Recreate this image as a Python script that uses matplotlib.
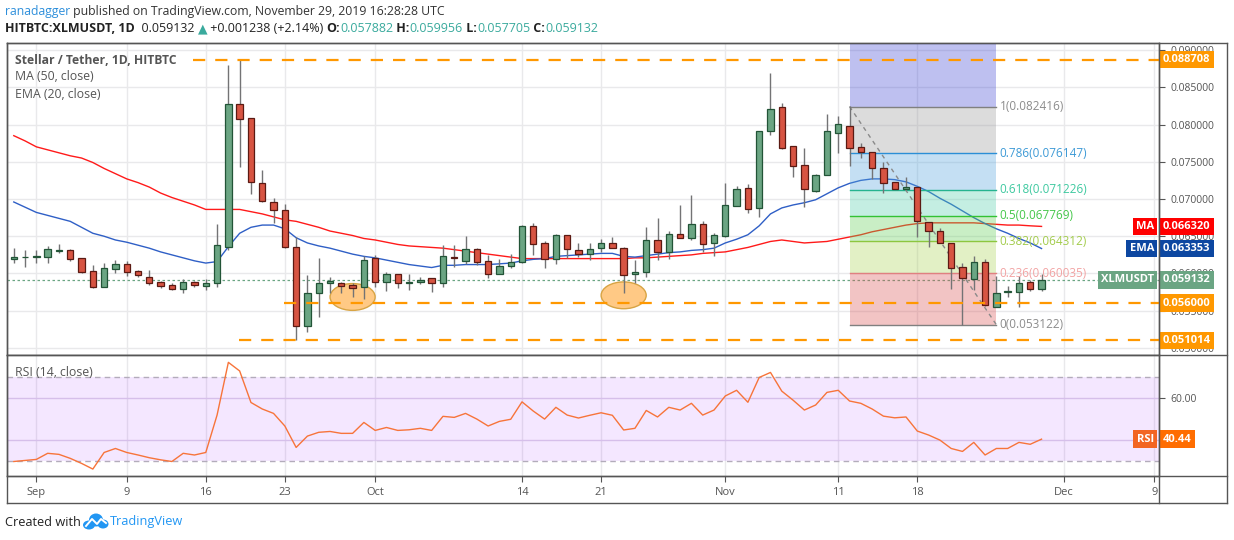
import numpy as np
import pandas as pd
import matplotlib
matplotlib.use('Agg')
import matplotlib.pyplot as plt
from matplotlib.patches import Rectangle, Ellipse
from matplotlib.lines import Line2D
from matplotlib.transforms import blended_transform_factory

plt.rcParams['font.family'] = ['Open Sans', 'DejaVu Sans']

# ---- data ----
dates = pd.date_range('2019-08-30', '2019-11-29', freq='D')

opens = [0.06190, 0.06215, 0.06217, 0.06226, 0.06302, 0.06311, 0.06204, 0.06034, 0.05823, 0.06060,
         0.06123, 0.06034, 0.05957, 0.05881, 0.05841, 0.05787, 0.05881, 0.05837, 0.05868, 0.06360,
         0.08275, 0.08083, 0.07210, 0.06964, 0.06848, 0.06360, 0.05295, 0.05743, 0.05868, 0.05868,
         0.05841, 0.05814, 0.06204, 0.05881, 0.05989, 0.05870, 0.05882, 0.05940, 0.05868, 0.06218,
         0.06172, 0.06325, 0.06164, 0.05989, 0.06097, 0.06150, 0.06638, 0.06405, 0.06190, 0.06512,
         0.06311, 0.06257, 0.06338, 0.06405, 0.06338, 0.05989, 0.06024, 0.06445, 0.06284, 0.06526,
         0.06472, 0.06669, 0.06414, 0.06507, 0.06910, 0.07144, 0.06875, 0.07909, 0.08231, 0.07707,
         0.07452, 0.07104, 0.07318, 0.07882, 0.07976, 0.07694, 0.07627, 0.07412, 0.07224, 0.07130,
         0.07157, 0.06696, 0.06575, 0.06405, 0.06083, 0.05922, 0.06150, 0.05555, 0.05752, 0.05756,
         0.05882, 0.057882]
highs = [0.06338, 0.06315, 0.06315, 0.06374, 0.06396, 0.06324, 0.06204, 0.06114, 0.06136, 0.06181,
         0.06172, 0.06047, 0.06047, 0.05904, 0.05877, 0.05922, 0.05904, 0.05922, 0.06664, 0.08799,
         0.08871, 0.08083, 0.07389, 0.07009, 0.06933, 0.06494, 0.05975, 0.06204, 0.05957, 0.05890,
         0.05868, 0.06235, 0.06248, 0.06025, 0.05995, 0.05993, 0.05949, 0.05940, 0.06383, 0.06383,
         0.06503, 0.06338, 0.06248, 0.06190, 0.06262, 0.06645, 0.06682, 0.06436, 0.06530, 0.06520,
         0.06405, 0.06405, 0.06459, 0.06485, 0.06360, 0.06181, 0.06620, 0.06741, 0.06570, 0.06919,
         0.07054, 0.06709, 0.06540, 0.07211, 0.07174, 0.07201, 0.07913, 0.08695, 0.08293, 0.07707,
         0.07681, 0.07336, 0.08141, 0.08114, 0.08242, 0.07756, 0.07627, 0.07501, 0.07224, 0.07291,
         0.07157, 0.06696, 0.06607, 0.06405, 0.06145, 0.06235, 0.06190, 0.05967, 0.05832, 0.05967,
         0.05913, 0.059956]
lows = [0.06136, 0.06083, 0.06145, 0.06145, 0.06271, 0.06172, 0.06011, 0.05801, 0.05823, 0.06011,
        0.05966, 0.05957, 0.05846, 0.05801, 0.05779, 0.05743, 0.05814, 0.05779, 0.05823, 0.06315,
        0.07434, 0.07063, 0.06964, 0.06682, 0.06338, 0.05101, 0.05219, 0.05412, 0.05734, 0.05734,
        0.05689, 0.05653, 0.05814, 0.05770, 0.05801, 0.05779, 0.05855, 0.05756, 0.05823, 0.06091,
        0.06128, 0.06114, 0.05935, 0.05989, 0.06078, 0.06137, 0.06248, 0.06078, 0.06128, 0.06204,
        0.06226, 0.06181, 0.06293, 0.06338, 0.05734, 0.05877, 0.05957, 0.06181, 0.06195, 0.06470,
        0.06450, 0.06293, 0.06235, 0.06494, 0.06910, 0.06817, 0.06763, 0.07859, 0.07671, 0.07291,
        0.06897, 0.07100, 0.07318, 0.07622, 0.07443, 0.07554, 0.07264, 0.07085, 0.07130, 0.07130,
        0.06486, 0.06352, 0.06405, 0.05788, 0.05312, 0.05778, 0.05560, 0.05555, 0.05681, 0.05546,
        0.05770, 0.057705]
closes = [0.06226, 0.06219, 0.06235, 0.06324, 0.06315, 0.06190, 0.06025, 0.05823, 0.06069, 0.06123,
          0.06025, 0.05975, 0.05877, 0.05837, 0.05796, 0.05881, 0.05841, 0.05877, 0.06383, 0.08275,
          0.08069, 0.07224, 0.06978, 0.06848, 0.06360, 0.05295, 0.05734, 0.05868, 0.05904, 0.05837,
          0.05810, 0.06181, 0.05881, 0.05989, 0.05868, 0.05880, 0.05913, 0.05868, 0.06235, 0.06206,
          0.06325, 0.06159, 0.05989, 0.06101, 0.06150, 0.06638, 0.06392, 0.06190, 0.06512, 0.06325,
          0.06257, 0.06325, 0.06405, 0.06338, 0.05975, 0.06020, 0.06445, 0.06284, 0.06526, 0.06472,
          0.06660, 0.06396, 0.06517, 0.06919, 0.07130, 0.06862, 0.07913, 0.08204, 0.07689, 0.07439,
          0.07130, 0.07318, 0.07913, 0.08003, 0.07681, 0.07627, 0.07412, 0.07211, 0.07130, 0.07157,
          0.06701, 0.06570, 0.06405, 0.06078, 0.05936, 0.06150, 0.05573, 0.05743, 0.05760, 0.05876,
          0.057882, 0.059132]

ma50 = [0.0785, 0.0778, 0.0770, 0.0766, 0.0762, 0.0758, 0.0755, 0.0749, 0.0741, 0.0734,
        0.0727, 0.0722, 0.0716, 0.0708, 0.0702, 0.0697, 0.0692, 0.0686, 0.0686, 0.0686,
        0.0686, 0.0683, 0.0680, 0.0676, 0.0672, 0.0670, 0.0666, 0.0662, 0.0657, 0.0654,
        0.0651, 0.0647, 0.0645, 0.0642, 0.0639, 0.0637, 0.0636, 0.0635, 0.0634, 0.0632,
        0.0630, 0.0628, 0.0626, 0.0624, 0.0622, 0.0620, 0.0620, 0.0620, 0.0620, 0.0620,
        0.0620, 0.0620, 0.0620, 0.0620, 0.0620, 0.0621, 0.0621, 0.0622, 0.0623, 0.0624,
        0.0625, 0.0627, 0.0628, 0.0629, 0.0632, 0.0635, 0.0639, 0.0643, 0.0645, 0.0643,
        0.0641, 0.0642, 0.0643, 0.0646, 0.0649, 0.0652, 0.0656, 0.0659, 0.0662, 0.0665,
        0.0667, 0.0668, 0.0668, 0.0668, 0.0668, 0.0668, 0.0667, 0.0666, 0.0665, 0.0665,
        0.0664, 0.06632]
ema20 = [0.0696, 0.0689, 0.0682, 0.0678, 0.0674, 0.0670, 0.0662, 0.0654, 0.0650, 0.0645,
         0.0642, 0.0638, 0.0634, 0.0629, 0.0625, 0.0621, 0.0617, 0.0614, 0.0616, 0.0636,
         0.0654, 0.0662, 0.0665, 0.0665, 0.0660, 0.0648, 0.0641, 0.0637, 0.0634, 0.0630,
         0.0626, 0.0623, 0.0621, 0.0618, 0.0615, 0.0612, 0.0610, 0.0608, 0.0611, 0.0611,
         0.0612, 0.0612, 0.0612, 0.0613, 0.0614, 0.0617, 0.0619, 0.0620, 0.0623, 0.0624,
         0.0625, 0.0626, 0.0627, 0.0627, 0.0623, 0.0622, 0.0624, 0.0626, 0.0628, 0.0629,
         0.0631, 0.0632, 0.0634, 0.0641, 0.0646, 0.0652, 0.0664, 0.0680, 0.0688, 0.0692,
         0.0695, 0.0699, 0.0707, 0.0715, 0.0721, 0.0725, 0.0727, 0.0727, 0.0726, 0.0723,
         0.0717, 0.0710, 0.0701, 0.0693, 0.0684, 0.0675, 0.0667, 0.0660, 0.0654, 0.0647,
         0.0641, 0.063353]
rsi14 = [29.8, 30.3, 30.8, 33.7, 33.2, 31.3, 28.9, 26.2, 34.1, 36.0,
         34.1, 32.9, 31.6, 30.6, 29.8, 33.7, 32.9, 34.1, 51.9, 77.0,
         72.9, 57.9, 54.8, 52.7, 46.7, 36.5, 41.9, 43.7, 44.1, 43.2,
         43.2, 48.4, 44.6, 46.0, 44.6, 44.9, 45.6, 44.6, 51.3, 50.8,
         52.7, 50.0, 46.7, 48.9, 49.9, 58.2, 53.8, 50.0, 55.6, 51.9,
         50.5, 51.8, 53.0, 51.8, 44.8, 45.6, 54.1, 51.0, 55.6, 54.3,
         57.5, 51.9, 54.3, 61.0, 63.7, 58.0, 69.8, 72.2, 63.3, 59.0,
         54.3, 56.7, 62.7, 63.7, 58.6, 57.5, 54.8, 51.4, 50.6, 51.0,
         44.3, 42.4, 40.0, 36.0, 34.6, 38.9, 32.9, 36.0, 36.0, 38.9,
         38.0, 40.44]

tick_dates = ['2019-09-01', '2019-09-09', '2019-09-16', '2019-09-23', '2019-10-01', '2019-10-14',
              '2019-10-21', '2019-11-01', '2019-11-11', '2019-11-18', '2019-12-01', '2019-12-09']
tick_labels = ['Sep', '9', '16', '23', 'Oct', '14', '21', 'Nov', '11', '18', 'Dec', '9']

fib_ratios = [1, 0.786, 0.618, 0.5, 0.382, 0.236, 0]
fib_prices = [0.082416, 0.076147, 0.071226, 0.067769, 0.064312, 0.060035, 0.053122]
fib_start, fib_end = '2019-11-12', '2019-11-25'

level_prices = [0.088708, 0.056000, 0.051014]
level_from = ['2019-09-14', '2019-09-22', '2019-09-18']

highlight_dates = ['2019-09-29', '2019-10-23']
highlight_prices = [0.05685, 0.05707]

last_price = 0.059132
# --------------------------------------

W, H = 1234, 540


def fx(x):
    return x / W


def fy(y):
    return 1 - y / H


def day(d):
    return (pd.Timestamp(d) - dates[0]).days


o = np.array(opens)
h = np.array(highs)
l = np.array(lows)
c = np.array(closes)
x = np.arange(len(dates))

fig = plt.figure(figsize=(W / 100, H / 100), dpi=100)
ax = fig.add_axes([fx(7), fy(355), (1159 - 7) / W, (355 - 43) / H])
axr = fig.add_axes([fx(7), fy(476), (1159 - 7) / W, (476 - 355) / H], sharex=ax)

grid_c = '#e9e9eb'
edge_c = '#555555'
txt_c = '#555555'

ax.set_xlim(-0.6, 101.4)
ax.set_ylim(0.04906, 0.09094)
tick_pos = [day(d) for d in tick_dates]

for a in (ax, axr):
    for s in a.spines.values():
        s.set_color(edge_c)
        s.set_linewidth(1)
    a.yaxis.tick_right()
    a.set_xticks(tick_pos)
    a.set_axisbelow(True)
    a.grid(axis='x', color=grid_c, lw=1)

ax.set_yticks(np.arange(0.05, 0.09001, 0.005))
ax.yaxis.set_major_formatter(matplotlib.ticker.FormatStrFormatter('%.6f'))
ax.grid(axis='y', color=grid_c, lw=1)
ax.tick_params(axis='x', length=0, labelbottom=False)
ax.tick_params(axis='y', length=4, color=edge_c, labelsize=7.5, labelcolor=txt_c, pad=4)

# MA / EMA
ax.plot(x, ma50, color='#ff1a1a', lw=1.0, zorder=3)
ax.plot(x, ema20, color='#2f5fc6', lw=1.0, zorder=3)

# highlight ellipses
for d, p in zip(highlight_dates, highlight_prices):
    ax.add_patch(Ellipse((day(d), p), 3.99, 0.0036, fc='#ffc985', ec='#d8a444', lw=1, zorder=3.5))

# fib retracement
f0, f1 = day(fib_start), day(fib_end)
zone_cols = ['#9b9b9b', '#56a6dd', '#56d1ac', '#65d159', '#acd459', '#da5656']
ax.add_patch(Rectangle((f0, fib_prices[0]), f1 - f0, 0.09094 - fib_prices[0],
                       fc='#454bd4', alpha=0.35, ec='none', zorder=3))
for k in range(len(fib_prices) - 1):
    ax.add_patch(Rectangle((f0, fib_prices[k + 1]), f1 - f0, fib_prices[k] - fib_prices[k + 1],
                           fc=zone_cols[k], alpha=0.35, ec='none', zorder=3))
line_cols = ['#808080', '#2b8fd6', '#25b38f', '#33c233', '#8cc63f', '#e08080', '#808080']
text_cols = ['#8c8c8c', '#3d9ad6', '#3ec9a0', '#45c74a', '#a3cc4c', '#f2a3a3', '#8c8c8c']
for r, p, lc, tc in zip(fib_ratios, fib_prices, line_cols, text_cols):
    ax.plot([f0, f1], [p, p], color=lc, lw=1, zorder=3.2)
    ax.text(f1 + 0.3, p, '%g(%.6f)' % (r, p), color=tc, fontsize=8.5, va='center', ha='left', zorder=6)
ax.plot([f0, f1], [fib_prices[0], fib_prices[-1]], color='#8a8a8a', lw=1, ls=(0, (3, 3)), zorder=3.3)

# candles
up = c >= o
body = np.maximum(np.abs(c - o), 0.00003)
ax.vlines(x, l, h, color='#737375', lw=1, zorder=4)
ax.bar(x[up], body[up], bottom=np.minimum(o, c)[up], width=0.56, color='#6ba583',
       edgecolor='#225437', lw=0.9, zorder=5)
ax.bar(x[~up], body[~up], bottom=np.minimum(o, c)[~up], width=0.56, color='#d75442',
       edgecolor='#5b1a13', lw=0.9, zorder=5)

# horizontal levels
for p, d in zip(level_prices, level_from):
    ax.plot([day(d) + 0.9, 101.4], [p, p], color='#ff9800', lw=1.6, dashes=(5.5, 4.5), zorder=6)
ax.axhline(last_price, color='#6ba583', lw=0.9, ls=(0, (2, 2)), zorder=2.5)

# RSI panel
axr.set_ylim(22.9, 80.5)
axr.axhspan(30, 70, color='#9915ff', alpha=0.1, lw=0, zorder=1)
for lv in (30, 70):
    axr.axhline(lv, color='#b3acbb', lw=1, ls=(0, (4, 3)), zorder=2)
axr.set_yticks([40, 60])
axr.set_yticklabels(['', '60.00'])
axr.grid(axis='y', color='#ddd3e8', lw=1)
axr.plot(x, rsi14, color='#f7743a', lw=1.0, zorder=4)
axr.tick_params(axis='y', length=4, color=edge_c, labelsize=7.5, labelcolor=txt_c, pad=4)
axr.set_xticklabels(tick_labels)
axr.tick_params(axis='x', length=4, color=edge_c, labelsize=8, labelcolor=txt_c, pad=4)


def tag(a, val, text, col, name=None, ncol=None):
    tr = blended_transform_factory(fig.transFigure, a.transData)
    a.text(fx(1163), val, text, transform=tr, ha='left', va='center', color='white',
           fontsize=8, fontweight='bold', clip_on=False, zorder=20,
           bbox=dict(boxstyle='square,pad=0.3', fc=col, ec='none'))
    if name:
        a.text(fx(1154), val, name, transform=tr, ha='right', va='center', color='white',
               fontsize=8, fontweight='bold', clip_on=False, zorder=20,
               bbox=dict(boxstyle='square,pad=0.3', fc=ncol, ec='none'))


for p in level_prices:
    tag(ax, p, '%.6f' % p, '#ff9800')
tag(ax, ma50[-1], '%.6f' % ma50[-1], '#ff0000', 'MA', '#ff0000')
tag(ax, ema20[-1], '%.6f' % ema20[-1], '#0d47a1', 'EMA', '#0d47a1')
tag(ax, last_price, '%.6f' % last_price, '#6ba583', 'XLMUSDT', '#6ba583')
tag(axr, rsi14[-1], '%.2f' % rsi14[-1], '#ff6d00', 'RSI', '#f26522')

# frame lines
for yy in (43, 355, 476, 503):
    fig.add_artist(Line2D([fx(7), fx(1227)], [fy(yy), fy(yy)], color=edge_c, lw=1))
for xx in (7, 1159, 1227):
    fig.add_artist(Line2D([fx(xx), fx(xx)], [fy(43), fy(503)], color=edge_c, lw=1))

# legend texts
fig.text(fx(15), fy(60), 'Stellar / Tether, 1D, HITBTC', color=txt_c, fontsize=8.7,
         fontweight='bold', va='center')
fig.text(fx(15), fy(77), 'MA (50, close)', color=txt_c, fontsize=8.8, va='center')
fig.text(fx(15), fy(95), 'EMA (20, close)', color=txt_c, fontsize=8.8, va='center')
fig.text(fx(15), fy(372), 'RSI (14, close)', color=txt_c, fontsize=8.8, va='center')

# header
fig.canvas.draw()
renderer = fig.canvas.get_renderer()


def line_of_text(x0, y0, parts, size):
    px = x0
    for s, col, wt in parts:
        t = fig.text(px / W, fy(y0), s, color=col, fontsize=size, fontweight=wt, va='center',
                     family=['Open Sans', 'DejaVu Sans'])
        bb = t.get_window_extent(renderer)
        px = bb.x1


teal = '#3aaa9d'
line_of_text(5, 12, [('ranadagger', '#2e8fdb', 'normal'),
                     (' published on TradingView.com, November 29, 2019 16:28:28 UTC', '#333333', 'normal')], 8.8)
line_of_text(5, 29, [('HITBTC:XLMUSDT, 1D', '#222222', 'bold'),
                     ('  0.059132 ', '#222222', 'normal'), ('\u25b2', teal, 'normal'),
                     (' +0.001238 (+2.14%) ', '#222222', 'normal'),
                     ('O:', '#222222', 'bold'), ('0.057882', teal, 'normal'),
                     (' H:', '#222222', 'bold'), ('0.059956', teal, 'normal'),
                     (' L:', '#222222', 'bold'), ('0.057705', teal, 'normal'),
                     (' C:', '#222222', 'bold'), ('0.059132', teal, 'normal')], 9.0)

# watermark
fig.text(fx(5), fy(522), 'Created with', color='#222222', fontsize=9.2, va='center')
fig.text(fx(110), fy(522), 'TradingView', color='#2196f3', fontsize=9.2, va='center')
for cx, cy, rw, rh in [(89, 525, 12, 9), (96, 520, 14, 13), (103, 524, 11, 9)]:
    fig.add_artist(Ellipse((fx(cx), fy(cy)), rw / W, rh / H, transform=fig.transFigure,
                           fc='#2196f3', ec='none'))
fig.add_artist(Line2D([fx(86), fx(92), fx(97), fx(101), fx(106)],
                      [fy(526), fy(519), fy(524), fy(519), fy(523)], color='white', lw=1.4))

fig.savefig('out.png', dpi=100, facecolor='white')
